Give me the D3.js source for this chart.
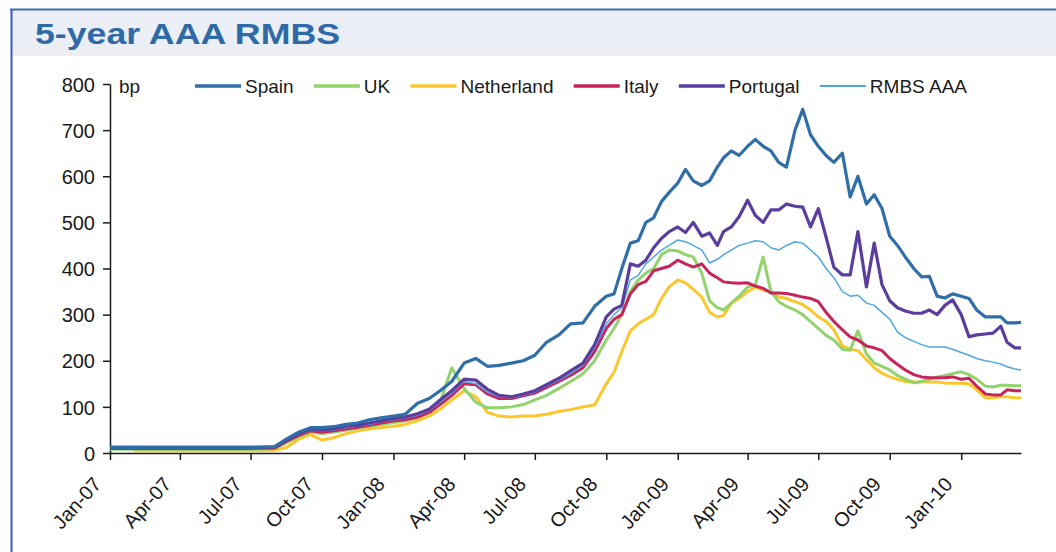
<!DOCTYPE html>
<html>
<head>
<meta charset="utf-8">
<script src="https://cdn.jsdelivr.net/npm/d3@7"></script>
<style>
  body { margin: 0; background: #fff; }
  svg { display: block; font-family: "Liberation Sans", Arial, sans-serif; }
  .axis path, .axis line { stroke: #1a1a1a; stroke-width: 1.5px; }
  .axis text { fill: #1a1a1a; font-size: 20px; }
</style>
</head>
<body>
<div id="chart"></div>
<script>
// chart size
var w = 1056;
var h = 552;

// dates of the readings (coarse in the flat part, finer later)
var dates = [
  "2007-01-01","2007-02-01","2007-03-01","2007-04-01","2007-05-01","2007-06-01","2007-07-01",
  "2007-08-01","2007-08-16","2007-09-01","2007-09-16","2007-10-01","2007-10-16","2007-11-01","2007-11-16","2007-12-01","2007-12-16",
  "2008-01-01","2008-01-16","2008-02-01","2008-02-16","2008-03-01","2008-03-16","2008-04-01","2008-04-16","2008-05-01","2008-05-16",
  "2008-06-01","2008-06-16","2008-07-01","2008-07-16","2008-08-01","2008-08-16","2008-09-01","2008-09-16",
  "2008-10-01","2008-10-11","2008-10-21","2008-11-01","2008-11-11","2008-11-21","2008-12-01","2008-12-11","2008-12-21",
  "2009-01-01","2009-01-11","2009-01-21","2009-02-01","2009-02-11","2009-02-21","2009-03-01","2009-03-11","2009-03-21",
  "2009-04-01","2009-04-11","2009-04-21","2009-05-01","2009-05-11","2009-05-21","2009-06-01","2009-06-11","2009-06-21",
  "2009-07-01","2009-07-11","2009-07-21","2009-08-01","2009-08-11","2009-08-21","2009-09-01","2009-09-11","2009-09-21",
  "2009-10-01","2009-10-11","2009-10-21","2009-11-01","2009-11-11","2009-11-21","2009-12-01","2009-12-11","2009-12-21",
  "2010-01-01","2010-01-11","2010-01-21","2010-02-01","2010-02-11","2010-02-21","2010-03-01","2010-03-11","2010-03-19"
];

// spreads in bp
var spain = [
  12,12,12,12,12,12,12,
  14,30,45,55,55,57,62,65,72,76,
  80,84,108,118,135,155,195,205,188,190,
  195,200,212,240,256,280,282,318,
  340,345,400,455,460,500,510,545,565,
  585,615,590,580,590,620,640,655,645,
  665,680,665,655,630,620,700,745,690,
  665,645,630,650,555,600,540,560,530,
  470,450,425,400,382,383,340,336,345,
  340,335,310,295,295,295,282,282,283
];
var uk = [
  8,8,8,8,8,8,8,
  10,22,36,45,42,45,50,54,58,62,
  66,70,76,88,110,185,140,110,98,98,
  100,105,115,125,140,155,172,200,
  245,270,300,350,375,390,400,430,440,
  438,430,425,390,330,315,310,325,340,
  360,365,425,350,328,318,310,300,285,
  270,255,245,225,223,265,215,195,188,
  180,168,160,152,155,160,165,168,172,
  176,170,160,145,143,147,147,146,146
];
var netherland = [
  null,5,5,5,5,5,5,
  6,12,30,40,28,33,42,48,52,55,
  58,62,70,80,95,115,135,122,88,80,
  78,80,80,84,90,94,100,104,
  150,175,220,265,280,290,300,335,360,
  375,369,355,338,305,295,298,325,335,
  350,360,353,350,338,335,328,322,310,
  295,285,267,232,225,222,202,185,173,
  165,160,155,154,154,154,154,152,151,
  151,150,137,120,120,122,122,120,119
];
var italy = [
  10,10,10,10,10,10,10,
  11,25,38,48,45,48,52,56,60,65,
  70,72,78,88,105,125,150,148,128,118,
  118,124,130,142,155,168,185,220,
  270,290,300,345,365,372,395,400,405,
  418,410,403,410,390,380,371,369,368,
  369,362,357,347,347,346,342,338,335,
  328,305,285,267,252,245,232,228,222,
  205,192,180,170,165,163,163,163,165,
  160,162,145,128,126,126,137,135,135
];
var portugal = [
  12,12,12,12,12,12,12,
  13,28,42,52,50,52,58,60,65,70,
  75,78,85,95,115,135,160,158,138,125,
  122,128,135,148,162,178,195,235,
  295,312,320,410,405,418,445,465,480,
  490,478,500,470,477,450,480,490,512,
  548,515,500,527,527,540,535,533,490,
  530,468,403,386,386,480,360,455,365,
  330,315,308,303,303,310,300,320,332,
  300,252,256,258,260,275,240,228,228
];
var rmbs = [
  12,12,12,12,12,12,12,
  13,27,40,50,48,50,55,58,62,68,
  72,76,82,92,110,130,155,150,132,122,
  120,125,132,145,158,172,190,228,
  280,300,315,375,385,410,425,440,450,
  462,458,450,440,412,420,430,440,450,
  455,460,458,445,440,450,458,455,440,
  425,400,380,350,340,342,325,320,305,
  290,262,250,242,235,230,230,230,225,
  218,212,205,200,197,193,187,182,180
];

var names = ["Spain", "UK", "Netherland", "Italy", "Portugal", "RMBS AAA"];
var colors = ["#2f6ea9", "#92d36e", "#fcc72c", "#c7245b", "#5a3d9c", "#4fa6e0"];
var widths = [3.2, 3, 3, 3, 3.2, 1.5];
var yTicks = [0, 100, 200, 300, 400, 500, 600, 700, 800];

var parseDate = d3.timeParse("%Y-%m-%d");
var formatTime = d3.timeFormat("%b-%y");
var dateList = dates.map(parseDate);
var seriesValues = [spain, uk, netherland, italy, portugal, rmbs];

var svg = d3.select("#chart")
    .append("svg")
    .attr("width", w)
    .attr("height", h);

// frame and title band
svg.append("rect")
    .attr("x", 11).attr("y", 9)
    .attr("width", w - 11).attr("height", 47)
    .attr("fill", "#ebeff5");
svg.append("line")
    .attr("x1", 10).attr("x2", w).attr("y1", 9.5).attr("y2", 9.5)
    .attr("stroke", "#3f6fae").attr("stroke-width", 2);
svg.append("line")
    .attr("x1", 11.5).attr("x2", 11.5).attr("y1", 9).attr("y2", h)
    .attr("stroke", "#3c5cbc").attr("stroke-width", 2);
svg.append("text")
    .attr("x", 35).attr("y", 44)
    .attr("fill", "#2f69a6")
    .attr("font-size", "30px")
    .attr("font-weight", "bold")
    .attr("textLength", 305)
    .attr("lengthAdjust", "spacingAndGlyphs")
    .text("5-year AAA RMBS");

// scales
var xScale = d3.scaleTime()
    .domain([parseDate("2007-01-01"), parseDate("2010-03-19")])
    .range([110, 1021]);
var yScale = d3.scaleLinear()
    .domain([0, 800])
    .range([453, 84]);

// axes
var xAxis = d3.axisBottom(xScale)
    .ticks(d3.timeMonth.every(3))
    .tickFormat(formatTime)
    .tickSize(7)
    .tickSizeOuter(0);
var yAxis = d3.axisLeft(yScale)
    .tickValues(yTicks)
    .tickSize(7)
    .tickSizeOuter(0)
    .tickPadding(8);

var gx = svg.append("g")
    .attr("class", "axis")
    .attr("transform", "translate(0," + 453 + ")")
    .call(xAxis);
gx.selectAll("text")
    .attr("font-size", "19px")
    .attr("text-anchor", "end")
    .attr("dy", null)
    .attr("y", 0)
    .attr("transform", "translate(-8,32) rotate(-48)");

svg.append("g")
    .attr("class", "axis")
    .attr("transform", "translate(110,0)")
    .call(yAxis)
    .selectAll("text")
    .attr("dy", "0.36em");

svg.append("text")
    .attr("x", 119).attr("y", 93)
    .attr("fill", "#1a1a1a")
    .attr("font-size", "19px")
    .text("bp");

// lines
var drawOrder = [2, 1, 3, 5, 4, 0];
drawOrder.forEach(function (k) {
    var pts = dateList.map(function (d, i) {
        return { date: d, value: seriesValues[k][i] };
    });
    var line = d3.line()
        .defined(function (d) { return d.value != null; })
        .x(function (d) { return xScale(d.date); })
        .y(function (d) { return yScale(d.value); });
    svg.append("path")
        .datum(pts)
        .attr("fill", "none")
        .attr("stroke", colors[k])
        .attr("stroke-width", widths[k])
        .attr("stroke-linejoin", "round")
        .attr("d", line);
});

// legend, spread between x=195 and x=967
var legend = svg.append("g");
var lineLen = 46;
var items = legend.selectAll("g")
    .data(names)
    .enter()
    .append("g");
items.append("text")
    .attr("y", 93)
    .attr("font-size", "19px")
    .attr("fill", "#1a1a1a")
    .text(function (d) { return d; });
var textW = [];
items.select("text").each(function () { textW.push(this.getComputedTextLength()); });
var total = d3.sum(textW) + names.length * (lineLen + 4);
var gap = (967 - 195 - total) / (names.length - 1);
var cx = 195;
items.each(function (d, i) {
    var g = d3.select(this);
    g.append("line")
        .attr("x1", cx).attr("x2", cx + lineLen)
        .attr("y1", 86).attr("y2", 86)
        .attr("stroke", colors[i])
        .attr("stroke-width", i == 5 ? 2 : 3.5);
    g.select("text").attr("x", cx + lineLen + 4);
    cx += lineLen + 4 + textW[i] + gap;
});
</script>
</body>
</html>
